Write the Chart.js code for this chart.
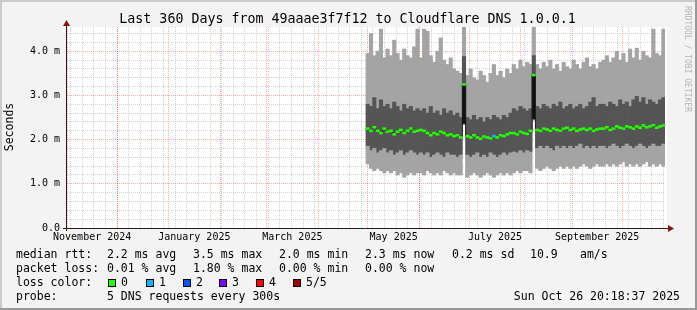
<!DOCTYPE html>
<html>
<head>
<meta charset="utf-8">
<script src="https://cdn.jsdelivr.net/npm/chart.js@4.4.1/dist/chart.umd.min.js"></script>
<style>
  html, body { margin: 0; padding: 0; background: #f3f3f3; }
  canvas { display: block; }
</style>
</head>
<body>
<canvas id="smoke" width="697" height="310"></canvas>
<script>
// time axis: 360 days ending Sun Oct 26 20:18:37 2025, measured in days from the left edge
const rangeStart = Date.UTC(2024, 9, 31, 20, 18, 37);
const rangeDays = 360;
const firstBucketDay = 180;
const bucketDays = 2;

// smoke (ms), one value per 2-day bucket from late April 2025
const pingMin = [1.45, 1.35, 1.30, 1.35, 1.30, 1.25, 1.30,
  1.25, 1.30, 1.20, 1.25, 1.15, 1.20, 1.25, 1.20, 1.25,
  1.25, 1.20, 1.30, 1.25, 1.20, 1.25, 1.20, 1.30, 1.25, 1.20,
  1.25, 1.20, 1.20, 2.35,
  1.15, 1.20, 1.25, 1.20, 1.15, 1.20, 1.25, 1.20, 1.15, 1.20, 1.25, 1.20, 1.25, 1.20,
  1.25, 1.30, 1.25, 1.30, 1.30, 1.25, 2.45,
  1.35, 1.30, 1.35, 1.40, 1.35, 1.30, 1.35, 1.40, 1.35, 1.40, 1.35, 1.40, 1.35, 1.40, 1.45, 1.40, 1.35, 1.40, 1.45, 1.40,
  1.40, 1.45, 1.40, 1.45, 1.40, 1.45, 1.50, 1.40, 1.45, 1.40, 1.45, 1.40, 1.45, 1.50, 1.40, 1.45, 1.40, 1.45, 1.40];

const smokeLow = [1.85, 1.75, 1.80, 1.70, 1.75, 1.80, 1.70,
  1.75, 1.65, 1.70, 1.75, 1.65, 1.70, 1.75, 1.70, 1.65,
  1.70, 1.65, 1.70, 1.60, 1.65, 1.70, 1.65, 1.60, 1.70, 1.65,
  1.65, 1.60, 1.65, 2.35,
  1.65, 1.60, 1.65, 1.70, 1.60, 1.65, 1.60, 1.70, 1.65, 1.60, 1.65, 1.70, 1.65, 1.70,
  1.72, 1.70, 1.75, 1.70, 1.75, 1.72, 2.45,
  1.80, 1.85, 1.80, 1.85, 1.80, 1.75, 1.85, 1.80, 1.85, 1.80, 1.85, 1.80, 1.85, 1.90, 1.80, 1.85, 1.80, 1.85, 1.80, 1.85,
  1.85, 1.80, 1.85, 1.90, 1.85, 1.80, 1.85, 1.90, 1.85, 1.80, 1.85, 1.90, 1.85, 1.80, 1.85, 1.90, 1.85, 1.85, 1.90];

const median = [2.25, 2.20, 2.28, 2.20, 2.15, 2.25, 2.18,
  2.20, 2.12, 2.18, 2.22, 2.15, 2.20, 2.25, 2.18, 2.20,
  2.22, 2.20, 2.15, 2.10, 2.15, 2.12, 2.18, 2.15, 2.10, 2.12,
  2.08, 2.10, 2.05, 3.25,
  2.08, 2.05, 2.10, 2.05, 2.02, 2.07, 2.05, 2.03, 2.08, 2.05, 2.10, 2.08, 2.12, 2.15,
  2.15, 2.12, 2.18, 2.15, 2.13, 2.20, 3.46,
  2.22, 2.20, 2.25, 2.23, 2.20, 2.25, 2.22, 2.20, 2.25, 2.27, 2.22, 2.25, 2.20, 2.23, 2.25, 2.22, 2.25, 2.20, 2.23, 2.25,
  2.25, 2.28, 2.22, 2.25, 2.30, 2.27, 2.25, 2.30, 2.28, 2.25, 2.30, 2.27, 2.32, 2.28, 2.30, 2.33, 2.27, 2.30, 2.32];

const smokeHigh = [2.80, 2.75, 2.95, 2.70, 2.90, 2.75, 2.80,
  2.70, 2.85, 2.75, 2.65, 2.80, 2.70, 2.75, 2.65, 2.70,
  2.65, 2.70, 2.60, 2.75, 2.60, 2.65, 2.55, 2.70, 2.60, 2.65,
  2.55, 2.60, 2.50, 3.88,
  2.50, 2.45, 2.55, 2.45, 2.50, 2.40, 2.50, 2.45, 2.55, 2.50, 2.45, 2.55, 2.50, 2.60,
  2.70, 2.65, 2.75, 2.70, 2.65, 2.70, 3.90,
  2.75, 2.70, 2.80, 2.75, 2.70, 2.80, 2.75, 2.85, 2.70, 2.75, 2.80, 2.70, 2.75, 2.80, 2.70, 2.75, 2.85, 2.95, 2.75, 2.80,
  2.80, 2.75, 2.85, 2.80, 2.75, 2.90, 2.80, 2.85, 2.75, 2.90, 2.98, 2.85, 2.95, 2.80, 2.90, 2.85, 2.80, 2.90, 2.95];

const pingMax = [3.95, 4.40, 3.90, 4.00, 4.50, 3.85, 4.05,
  3.90, 4.25, 3.95, 3.80, 4.05, 3.90, 3.85, 4.10, 4.50,
  3.85, 4.50, 4.45, 3.90, 3.75, 4.00, 4.30, 3.80, 3.70, 3.85,
  3.60, 3.55, 3.50, 4.60,
  3.45, 3.60, 3.40, 3.35, 3.55, 3.45, 3.30, 3.50, 3.70, 3.45, 3.55, 3.40, 3.60, 3.50,
  3.70, 3.60, 3.80, 3.65, 3.75, 3.70, 4.60,
  3.70, 3.60, 3.75, 3.65, 3.80, 3.60, 3.70, 3.55, 3.75, 3.65, 3.60, 3.80, 3.70, 3.60, 3.75, 3.85, 3.65, 3.70, 3.60, 3.75,
  3.80, 3.90, 3.75, 3.85, 4.00, 3.80, 3.95, 3.75, 4.05, 3.85, 4.07, 3.80, 4.00, 3.90, 3.85, 4.50, 3.95, 3.90, 4.50];

const spikeIdx = [29, 50];
const lossIdx = [38];
const lossCount = [1];

const lossColors = ["#26ff00", "#00b8ff", "#0059ff", "#7e00ff", "#ff0000", "#a00000"];
const lossLabels = ["0", "1", "2", "3", "4", "5/5"];

const labelMonths = [[2024, 10], [2025, 0], [2025, 2], [2025, 4], [2025, 6], [2025, 8]];
const monthLabels = ["November 2024", "January 2025", "March 2025", "May 2025", "July 2025", "September 2025"];

const LIGHT = "#a4a4a4";
const DARK = "#555555";
const MONO = "DejaVu Sans Mono";

const dayOf = (y, m, d) => (Date.UTC(y, m, d) - rangeStart) / 86400000;

const monthStarts = [];
for (let m = 10; m <= 21; m++) monthStarts.push(dayOf(2024, m, 1));
const weekLines = [];
for (let d = dayOf(2024, 10, 3); d <= rangeDays; d += 7) weekLines.push(d);
const labelDays = labelMonths.map(([y, m]) => (dayOf(y, m, 1) + dayOf(y, m + 1, 1)) / 2);

const bucketCenter = (i) => firstBucketDay + bucketDays * (i + 0.5);
const floatSeries = (lo, hi) => lo.map((v, i) => ({ x: bucketCenter(i), y: [v, hi[i]] }));
const lossOf = (i) => {
  const k = lossIdx.indexOf(i);
  return k < 0 ? 0 : lossCount[k];
};

const barBase = {
  type: "bar",
  xAxisID: "x",
  grouped: false,
  barPercentage: 1,
  categoryPercentage: 1,
  inflateAmount: 0.4,
  borderWidth: 0,
  order: 3,
};

const textPlugin = {
  id: "smokeText",
  beforeDraw(chart) {
    const { ctx, chartArea: a } = chart;
    ctx.save();
    ctx.fillStyle = "#f3f3f3";
    ctx.fillRect(0, 0, chart.width, chart.height);
    ctx.fillStyle = "#ffffff";
    ctx.fillRect(a.left, a.top, a.right - a.left + 2, a.bottom - a.top);
    ctx.restore();
  },
  afterDraw(chart) {
    const { ctx, chartArea: a } = chart;
    ctx.save();

    // axes with arrows
    ctx.strokeStyle = "#2a1a1a";
    ctx.lineWidth = 1;
    ctx.beginPath();
    ctx.moveTo(63, a.bottom + 0.5);
    ctx.lineTo(a.right + 3, a.bottom + 0.5);
    ctx.moveTo(a.left - 0.5, a.bottom + 3);
    ctx.lineTo(a.left - 0.5, a.top - 2);
    ctx.stroke();
    ctx.fillStyle = "#8b1010";
    ctx.beginPath();
    ctx.moveTo(a.right + 3, a.bottom - 3);
    ctx.lineTo(a.right + 9, a.bottom + 0.5);
    ctx.lineTo(a.right + 3, a.bottom + 4);
    ctx.closePath();
    ctx.fill();
    ctx.beginPath();
    ctx.moveTo(a.left - 4, a.top - 1);
    ctx.lineTo(a.left - 0.5, a.top - 7);
    ctx.lineTo(a.left + 3, a.top - 1);
    ctx.closePath();
    ctx.fill();

    // title
    ctx.fillStyle = "#000";
    ctx.font = `13.3px "${MONO}"`;
    ctx.textAlign = "center";
    ctx.textBaseline = "alphabetic";
    ctx.fillText("Last 360 Days from 49aaae3f7f12 to Cloudflare DNS 1.0.0.1", 347.5, 23);

    // side labels
    ctx.font = `11.5px "${MONO}"`;
    ctx.textBaseline = "middle";
    ctx.save();
    ctx.translate(10.5, 127);
    ctx.rotate(-Math.PI / 2);
    ctx.fillText("Seconds", 0, 0);
    ctx.restore();
    ctx.save();
    ctx.fillStyle = "#b4b4b4";
    ctx.font = `8px "${MONO}"`;
    ctx.translate(687, 59);
    ctx.rotate(Math.PI / 2);
    ctx.fillText("RRDTOOL / TOBI OETIKER", 0, 0);
    ctx.restore();

    // legend
    ctx.textAlign = "left";
    ctx.textBaseline = "alphabetic";
    ctx.font = `11.5px "${MONO}"`;
    const rows = [
      [258, [[16, "median rtt:"], [107, "2.2 ms avg"], [193, "3.5 ms max"], [279, "2.0 ms min"],
             [365, "2.3 ms now"], [452, "0.2 ms sd"], [530, "10.9"], [580, "am/s"]]],
      [272, [[16, "packet loss:"], [107, "0.01 % avg"], [193, "1.80 % max"], [279, "0.00 % min"],
             [365, "0.00 % now"]]],
      [286, [[16, "loss color:"]]],
      [300, [[16, "probe:"], [107, "5 DNS requests every 300s"]]],
    ];
    rows.forEach(([y, items]) => items.forEach(([x, t]) => ctx.fillText(t, x, y)));
    const swatchX = [108, 146, 183, 219, 256, 293];
    lossColors.forEach((c, i) => {
      ctx.fillStyle = c;
      ctx.fillRect(swatchX[i], 279, 8, 8);
      ctx.strokeStyle = "#000";
      ctx.strokeRect(swatchX[i] + 0.5, 279.5, 7, 7);
      ctx.fillStyle = "#000";
      ctx.fillText(lossLabels[i], swatchX[i] + 13, 286);
    });
    ctx.textAlign = "right";
    ctx.fillText("Sun Oct 26 20:18:37 2025", 680, 300);

    // frame
    ctx.fillStyle = "#cbcbcb";
    ctx.fillRect(0, 0, chart.width, 2);
    ctx.fillRect(0, 0, 2, chart.height);
    ctx.fillStyle = "#999999";
    ctx.fillRect(0, chart.height - 2, chart.width, 2);
    ctx.fillRect(chart.width - 2, 0, 2, chart.height);
    ctx.restore();
  },
};

new Chart(document.getElementById("smoke"), {
  type: "bar",
  data: {
    datasets: [
      {
        type: "line",
        label: "median",
        xAxisID: "x",
        data: median.map((v, i) => ({ x: bucketCenter(i), y: v })),
        showLine: false,
        pointStyle: "line",
        pointRadius: 1.95,
        pointBorderWidth: 2.5,
        pointBorderColor: (c) => lossColors[lossOf(c.dataIndex)],
        pointBackgroundColor: (c) => lossColors[lossOf(c.dataIndex)],
        order: 0,
      },
      {
        type: "line",
        label: "median steps",
        xAxisID: "x",
        data: median.map((v, i) => ({ x: bucketCenter(i), y: v })),
        stepped: "middle",
        borderColor: "#202020",
        borderWidth: 1,
        pointRadius: 0,
        fill: false,
        order: 1,
      },
      { ...barBase, label: "low smoke", data: floatSeries(pingMin, smokeLow), backgroundColor: LIGHT },
      {
        ...barBase,
        label: "inner smoke low",
        data: floatSeries(smokeLow, median),
        backgroundColor: (c) => (spikeIdx.includes(c.dataIndex) ? "#101010" : DARK),
      },
      { ...barBase, label: "inner smoke high", data: floatSeries(median, smokeHigh), backgroundColor: DARK },
      { ...barBase, label: "high smoke", data: floatSeries(smokeHigh, pingMax), backgroundColor: LIGHT },
    ],
  },
  options: {
    responsive: false,
    maintainAspectRatio: false,
    animation: false,
    devicePixelRatio: 1,
    events: [],
    layout: { padding: { top: 27, right: 32, bottom: 0, left: 0 } },
    plugins: { legend: { display: false }, tooltip: { enabled: false }, title: { display: false } },
    scales: {
      x: {
        type: "linear",
        min: 0,
        max: rangeDays,
        offset: false,
        display: false,
        grid: { offset: false },
      },
      xg: {
        type: "linear",
        position: "bottom",
        min: 0,
        max: rangeDays,
        offset: false,
        z: 1,
        afterBuildTicks: (s) => {
          s.ticks = [...weekLines, ...monthStarts].sort((p, q) => p - q).map((v) => ({ value: v }));
        },
        afterFit: (s) => { s.height = 0; },
        ticks: { display: false, autoSkip: false },
        grid: {
          offset: false,
          drawTicks: false,
          lineWidth: 1,
          color: (c) => (monthStarts.some((m) => Math.abs(m - c.tick.value) < 1e-6)
            ? "rgba(255,0,0,0.32)" : "rgba(140,140,140,0.38)"),
        },
        border: { display: false, dash: [1, 1] },
      },
      xl: {
        type: "linear",
        position: "bottom",
        min: 0,
        max: rangeDays,
        offset: false,
        afterBuildTicks: (s) => {
          s.ticks = labelDays.map((v) => ({ value: v }));
        },
        afterFit: (s) => { s.height = 82; },
        ticks: {
          autoSkip: false,
          maxRotation: 0,
          padding: 3,
          color: "#000",
          font: { family: MONO, size: 10 },
          callback: (v, i) => monthLabels[i],
        },
        grid: { display: false, drawTicks: false, offset: false },
        border: { display: false },
      },
      y: {
        type: "linear",
        min: 0,
        max: 4.55,
        z: 1,
        afterBuildTicks: (s) => {
          const t = [];
          for (let k = 0; k <= 22; k++) t.push({ value: k / 5 });
          s.ticks = t;
        },
        afterFit: (s) => { s.width = 67; },
        ticks: {
          autoSkip: false,
          padding: 7,
          color: "#000",
          font: { family: MONO, size: 10 },
          callback: (v) => (Number.isInteger(v) ? (v === 0 ? "0.0" : v.toFixed(1) + " m") : ""),
        },
        grid: {
          drawTicks: false,
          lineWidth: 1,
          color: (c) => (Number.isInteger(c.tick.value) ? "rgba(255,0,0,0.32)" : "rgba(140,140,140,0.38)"),
        },
        border: { display: false, dash: [1, 1] },
      },
    },
  },
  plugins: [textPlugin],
});
</script>
</body>
</html>
